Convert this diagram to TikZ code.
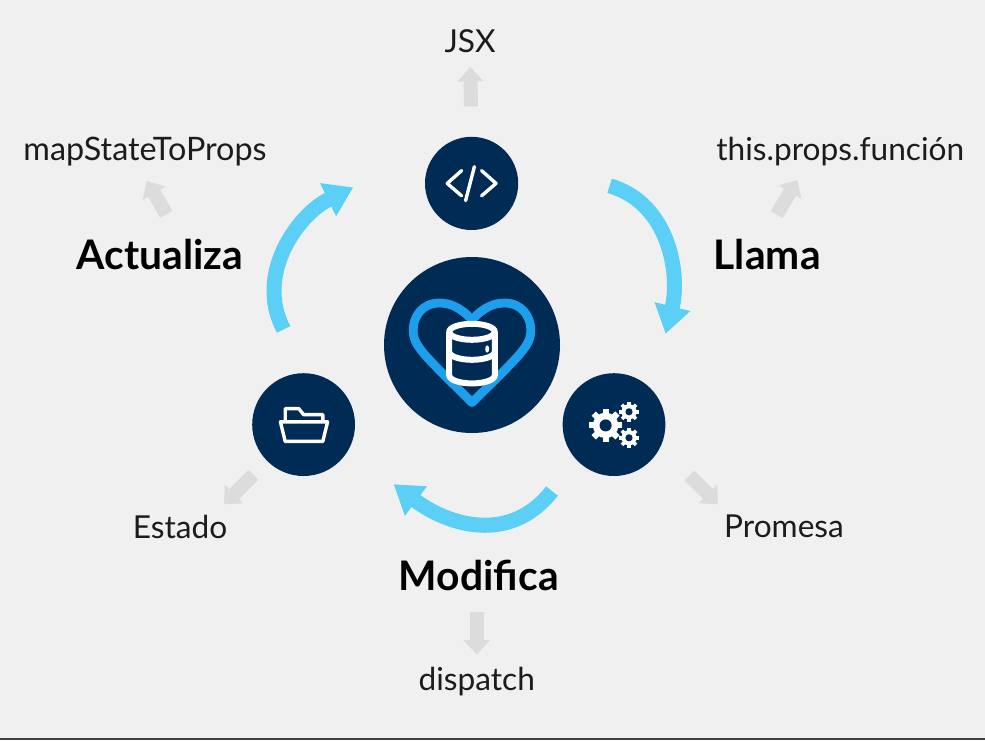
\documentclass[tikz,border=0pt]{standalone}
\usepackage{fontspec}
\usepackage{xcolor}
\setmainfont{Lato}
\usetikzlibrary{positioning,arrows.meta}
\definecolor{marino}{HTML}{002B55}
\definecolor{celeste}{HTML}{5BCFF5}
\definecolor{corazonazul}{HTML}{1CA0EE}
\definecolor{fondo}{HTML}{F0F0F0}
\definecolor{flechagris}{HTML}{DCDCDC}
\definecolor{texto}{HTML}{1C1C1C}

% one small cog: centre, radius of the body
\newcommand{\engrane}[3]{
  \foreach \ang in {0,45,...,315}{
    \draw[white, line width=#3*0.36cm] (#1,#2) -- ++(\ang:#3*1.0cm);
  }
  \fill[white] (#1,#2) circle (#3*0.76cm);
  \fill[marino] (#1,#2) circle (#3*0.36cm);
}

\begin{document}
\begin{tikzpicture}[
  icono/.style={circle, fill=marino, inner sep=0pt, minimum size=#1},
  etiqueta/.style={font=\fontsize{22.5}{26}\selectfont, text=texto, anchor=center, inner sep=1pt},
  accion/.style={font=\fontsize{29}{33}\selectfont\bfseries, text=black, anchor=center, inner sep=1pt},
  giro/.style={-{Triangle[length=0.7cm,width=0.87cm]}, line width=0.375cm, celeste},
  salida/.style={-{Triangle[length=0.36cm,width=0.64cm]}, line width=0.35cm, flechagris},
  trazo/.style={white, line width=0.085cm, line cap=round, line join=round}
]

% Background
\fill[fondo] (0,0) rectangle (24.625,-18.5);
\fill[black!75] (0,-18.45) rectangle (24.625,-18.5);
\useasboundingbox (0,0) rectangle (24.625,-18.5);

% Circles
\node[icono=4.4cm] (corazon) at (11.8,-8.625) {};
\node[icono=2.33cm, above left=4.04cm and 0.01cm of corazon.center, anchor=center] (codigo) {};
\node[icono=2.57cm, below left=1.99cm and 4.21cm of corazon.center, anchor=center] (carpeta) {};
\node[icono=2.57cm, below right=1.99cm and 3.55cm of corazon.center, anchor=center] (engranes) {};

% Labels
\node[etiqueta, above left=3.56cm and 0.04cm of codigo.center, anchor=center] (jsx) {JSX};
\node[accion, below left=1.77cm and 7.79cm of codigo.center, anchor=center] (actualiza) {Actualiza};
\node[accion, below right=1.77cm and 7.39cm of codigo.center, anchor=center] (llama) {Llama};
\node[etiqueta, font=\fontsize{23}{26}\selectfont, above left=2.56cm and 0.375cm of actualiza.center, anchor=center] (mapa) {mapStateToProps};
\node[etiqueta, above right=2.56cm and 1.825cm of llama.center, anchor=center] (props) {this.props.función};
\node[etiqueta, below left=2.56cm and 3.09cm of carpeta.center, anchor=center] (estado) {Estado};
\node[etiqueta, below right=2.55cm and 4.25cm of engranes.center, anchor=center] (promesa) {Promesa};
\node[accion, below right=5.76cm and 0.17cm of corazon.center, anchor=center] (modifica) {Modifica};
\node[etiqueta, below left=2.66cm and 0.05cm of modifica.center, anchor=center] (dispatch) {dispatch};

% Free ends of the curved arrows
\coordinate[below right=0.06cm and 3.45cm of codigo.center] (llamaini);
\coordinate[above right=2.27cm and 1.29cm of engranes.center] (llamafin);
\coordinate[above left=2.38cm and 0.5cm of carpeta.center] (actualizaini);
\coordinate[below left=0.1cm and 2.96cm of codigo.center] (actualizafin);
\coordinate[below left=1.66cm and 1.55cm of engranes.center] (modificaini);
\coordinate[below right=1.49cm and 2.25cm of carpeta.center] (modificafin);
\coordinate[below left=1.99cm and 1.99cm of carpeta.center] (estadofin);
\coordinate[below right=1.99cm and 2.6cm of engranes.center] (promesafin);

% Curved arrows
\draw[giro] (llamaini) to[out=-16, in=76] (llamafin);
\draw[giro] (actualizaini) to[out=118, in=206] (actualizafin);
\draw[giro] (modificaini) to[out=-128, in=-37, looseness=1.1] (modificafin);

% Grey arrows
\draw[salida, shorten <=0.75cm, shorten >=0.32cm] (codigo.north) -- (jsx.south);
\draw[salida, shorten <=0.66cm, shorten >=0.37cm] ([xshift=0.49cm]actualiza.north) -- ([xshift=-0.14cm]mapa.south);
\draw[salida, shorten <=0.66cm, shorten >=0.35cm] ([xshift=-0.1cm]llama.north) -- ([xshift=-0.89cm]props.south);
\draw[salida, shorten <=0.48cm] (carpeta.225) -- (estadofin);
\draw[salida, shorten <=0.5cm] ([xshift=0.62cm]engranes.-45) -- (promesafin);
\draw[salida, shorten <=0.5cm, shorten >=0.28cm] (dispatch.north |- modifica.south) -- (dispatch.north);

% Heart and database
\begin{scope}[shift={(corazon.center)}]
  \draw[corazonazul, line width=0.22cm, line join=round]
    (0,0.63) .. controls (-0.3,0.95) and (-0.55,1.05) .. (-0.82,1.05)
    .. controls (-1.25,1.05) and (-1.47,0.7) .. (-1.47,0.38)
    .. controls (-1.47,-0.02) and (-1.25,-0.2) .. (0,-1.44)
    .. controls (1.25,-0.2) and (1.47,-0.02) .. (1.47,0.38)
    .. controls (1.47,0.7) and (1.25,1.05) .. (0.82,1.05)
    .. controls (0.55,1.05) and (0.3,0.95) .. (0,0.63) -- cycle;
  \draw[white, fill=marino, line width=0.15cm, line join=round]
    (-0.57,0.33) -- (-0.57,-0.76) arc (180:360:0.57cm and 0.2cm) -- (0.57,0.33)
    arc (0:180:0.57cm and 0.2cm) -- cycle;
  \draw[white, line width=0.15cm] (-0.57,0.33) arc (180:360:0.57cm and 0.2cm);
  \draw[white, line width=0.15cm] (-0.57,-0.17) arc (180:360:0.57cm and 0.2cm);
  \fill[white] (0.38,-0.1) ellipse (0.05cm and 0.09cm);
\end{scope}

% Code icon
\begin{scope}[shift={(codigo.center)}]
  \draw[trazo] (-0.25,0.32) -- (-0.61,0) -- (-0.25,-0.31);
  \draw[trazo] (0.25,0.32) -- (0.61,0) -- (0.25,-0.31);
  \draw[trazo] (0.07,0.42) -- (-0.15,-0.43);
\end{scope}

% Folder icon
\begin{scope}[shift={(carpeta.center)}]
  \draw[trazo] (-0.46,0.11) -- (-0.46,0.4) -- (-0.12,0.4) -- (0,0.25) -- (0.48,0.25) -- (0.48,0.11);
  \draw[trazo] (-0.58,0.07) -- (0.6,0.07) -- (0.48,-0.42) -- (-0.46,-0.42) -- cycle;
\end{scope}

% Cogs icon
\begin{scope}[shift={(engranes.center)}]
  \engrane{-0.21}{-0.02}{0.42}
  \engrane{0.375}{0.32}{0.25}
  \engrane{0.375}{-0.33}{0.25}
\end{scope}

\end{tikzpicture}
\end{document}
